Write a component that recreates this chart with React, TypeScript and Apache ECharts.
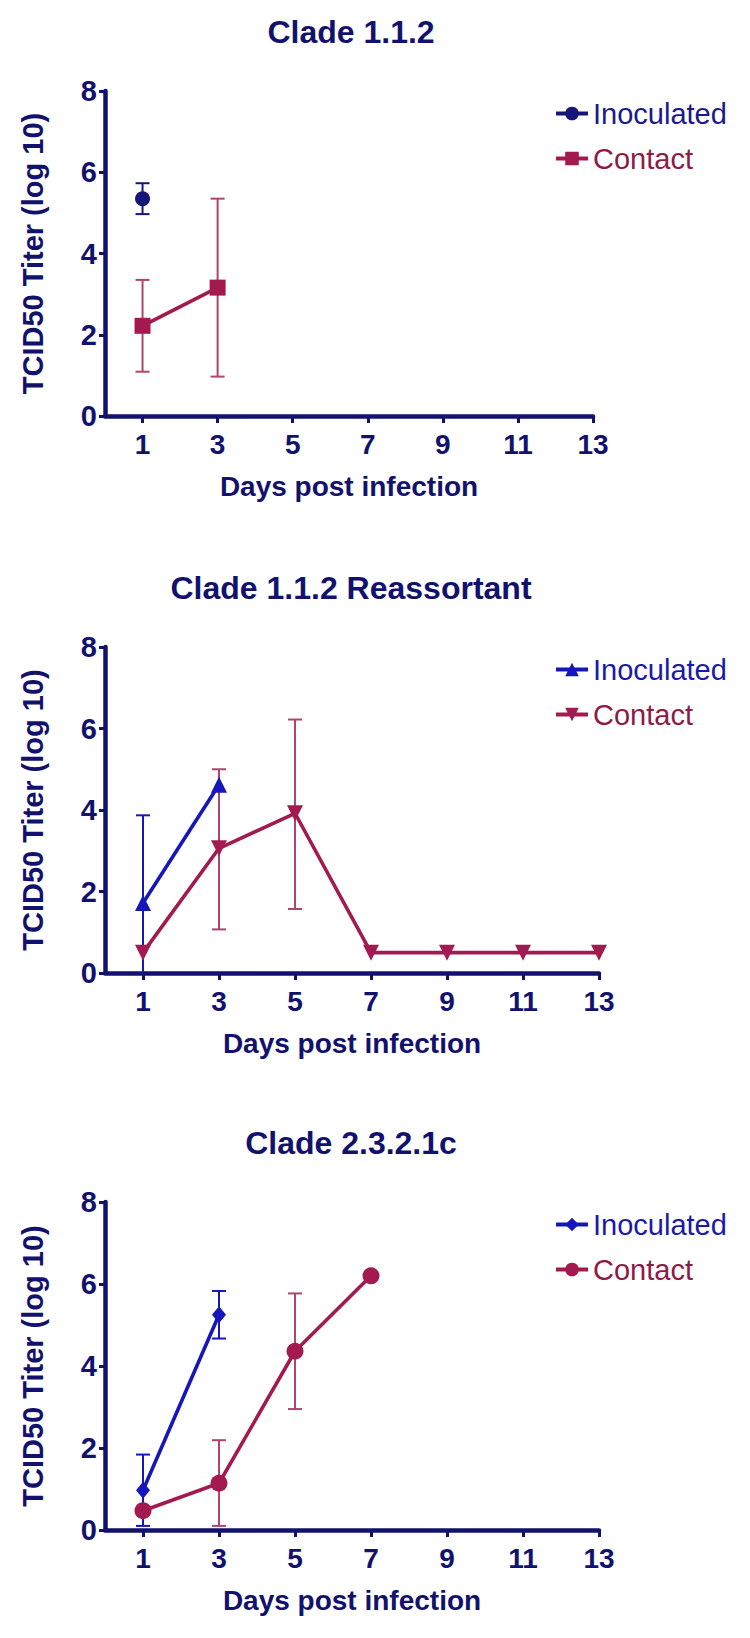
import React, { useEffect, useRef } from "react";
import * as echarts from "echarts";

// ---------- data ----------
const xTicks = [1, 3, 5, 7, 9, 11, 13];
const titles = ["Clade 1.1.2", "Clade 1.1.2 Reassortant", "Clade 2.3.2.1c"];
const legendNames = ["Inoculated", "Contact"];
const yAxisTitle = "TCID50 Titer (log 10)";
const xAxisTitle = "Days post infection";

// Clade 1.1.2
const c1InocDays = [1];
const c1InocMean = [5.35];
const c1InocLow = [4.97];
const c1InocHigh = [5.73];
const c1ContDays = [1, 3];
const c1ContMean = [2.22, 3.16];
const c1ContLow = [1.09, 0.97];
const c1ContHigh = [3.35, 5.35];

// Clade 1.1.2 Reassortant
const c2InocDays = [1, 3];
const c2InocMean = [1.72, 4.62];
const c2InocLow = [0, null];
const c2InocHigh = [3.87, null];
const c2ContDays = [1, 3, 5, 7, 9, 11, 13];
const c2ContMean = [0.5, 3.06, 3.92, 0.5, 0.5, 0.5, 0.5];
const c2ContLow = [null, 1.07, 1.57, null, null, null, null];
const c2ContHigh = [null, 5.0, 6.22, null, null, null, null];

// Clade 2.3.2.1c
const c3InocDays = [1, 3];
const c3InocMean = [0.97, 5.25];
const c3InocLow = [0.1, 4.67];
const c3InocHigh = [1.84, 5.83];
const c3ContDays = [1, 3, 5, 7];
const c3ContMean = [0.47, 1.14, 4.36, 6.2];
const c3ContLow = [null, 0.1, 2.95, null];
const c3ContHigh = [null, 2.19, 5.77, null];

// ---------- styles ----------
const NAVY = "#12126e";
const INOC1 = "#15157a";
const INOC = "#1616bc";
const CONT = "#a31a50";
const CONT_ERR = "#b04470";
const FONT = "'Liberation Sans', Arial, sans-serif";

const grids = [
  { left: 105, top: 91, width: 488, height: 325 },
  { left: 105, top: 647, width: 494, height: 326 },
  { left: 105, top: 1202, width: 494, height: 328 },
];

function pts(days: number[], vals: number[]) {
  return days.map((d, i) => [d, vals[i]]);
}
function errs(days: number[], lo: (number | null)[], hi: (number | null)[]) {
  const out: number[][] = [];
  days.forEach((d, i) => {
    if (lo[i] !== null && hi[i] !== null) out.push([d, lo[i] as number, hi[i] as number]);
  });
  return out;
}

function errorSeries(idx: number, data: number[][], color: string) {
  return {
    type: "custom",
    xAxisIndex: idx,
    yAxisIndex: idx,
    z: 1,
    silent: true,
    data,
    renderItem: (params: any, api: any) => {
      const x = api.value(0);
      const lo = api.value(1);
      const hi = api.value(2);
      const p1 = api.coord([x, hi]);
      const p2 = api.coord([x, lo]);
      const hw = 7;
      const style = { stroke: color, lineWidth: 2, fill: "none" };
      const children: any[] = [
        { type: "line", shape: { x1: p1[0], y1: p1[1], x2: p2[0], y2: p2[1] }, style },
        { type: "line", shape: { x1: p1[0] - hw, y1: p1[1], x2: p1[0] + hw, y2: p1[1] }, style },
      ];
      if (lo > 0) {
        children.push({ type: "line", shape: { x1: p2[0] - hw, y1: p2[1], x2: p2[0] + hw, y2: p2[1] }, style });
      }
      return { type: "group", children };
    },
  };
}

function lineSeries(idx: number, name: string, data: number[][], color: string, symbol: string, size: any, rotate = 0) {
  return {
    type: "line",
    name,
    xAxisIndex: idx,
    yAxisIndex: idx,
    z: 3,
    data,
    symbol,
    symbolSize: size,
    symbolRotate: rotate,
    showAllSymbol: true,
    itemStyle: { color, opacity: 1 },
    lineStyle: { color, width: 3.6 },
  };
}

export default function App() {
  const ref = useRef<HTMLDivElement>(null);
  useEffect(() => {
    document.body.style.margin = "0";
    if (!ref.current) return;
    const chart = echarts.init(ref.current, undefined, { renderer: "svg" });

    const tag = (i: number, n: string) => `${n} (${i + 1})`;

    const option: any = {
      animation: false,
      backgroundColor: "#ffffff",
      textStyle: { fontFamily: FONT },
      title: grids.map((g, i) => ({
        text: titles[i],
        left: 351,
        top: g.top - 75,
        padding: 0,
        textAlign: "center",
        textStyle: { fontSize: 32, fontWeight: "bold", color: NAVY, fontFamily: FONT },
      })),
      legend: grids.map((g, i) => ({
        orient: "vertical",
        left: 554,
        top: g.top + 8,
        padding: 0,
        itemGap: 16,
        itemWidth: 32,
        itemHeight: 17,
        selectedMode: false,
        lineStyle: { width: 4 },
        formatter: (name: string) => name.replace(/ \(\d\)$/, ""),
        textStyle: { fontSize: 29, fontFamily: FONT },
        data: [
          { name: tag(i, legendNames[0]), textStyle: { color: i === 0 ? "#1a1a8a" : "#1a1aa8" } },
          { name: tag(i, legendNames[1]), textStyle: { color: "#8e1a46" } },
        ],
      })),
      grid: grids.map((g) => ({ ...g, containLabel: false })),
      xAxis: grids.map((g, i) => ({
        type: "value",
        gridIndex: i,
        min: 0,
        max: 13,
        name: xAxisTitle,
        nameLocation: "middle",
        nameGap: 56,
        nameTextStyle: { fontSize: 28, fontWeight: "bold", color: NAVY, fontFamily: FONT },
        axisLine: { show: true, onZero: false, lineStyle: { color: NAVY, width: 4.5 } },
        axisTick: { show: true, inside: false, length: 7, lineStyle: { color: NAVY, width: 3 }, customValues: xTicks },
        axisLabel: { show: true, margin: 14, fontSize: 28, fontWeight: "bold", color: NAVY, fontFamily: FONT, customValues: xTicks },
        splitLine: { show: false },
      })),
      yAxis: grids.map((g, i) => ({
        type: "value",
        gridIndex: i,
        min: 0,
        max: 8,
        interval: 2,
        name: yAxisTitle,
        nameLocation: "middle",
        nameGap: 58,
        nameTextStyle: { fontSize: 29, fontWeight: "bold", color: NAVY, fontFamily: FONT },
        axisLine: { show: true, lineStyle: { color: NAVY, width: 4.5 } },
        axisTick: { show: true, inside: false, length: 6, lineStyle: { color: NAVY, width: 3 } },
        axisLabel: { show: true, margin: 8, fontSize: 29, fontWeight: "bold", color: NAVY, fontFamily: FONT },
        splitLine: { show: false },
      })),
      series: [
        // chart 1
        errorSeries(0, errs(c1InocDays, c1InocLow, c1InocHigh), INOC1),
        errorSeries(0, errs(c1ContDays, c1ContLow, c1ContHigh), CONT_ERR),
        lineSeries(0, tag(0, legendNames[0]), pts(c1InocDays, c1InocMean), INOC1, "circle", 15),
        lineSeries(0, tag(0, legendNames[1]), pts(c1ContDays, c1ContMean), CONT, "rect", 16),
        // chart 2
        errorSeries(1, errs(c2InocDays, c2InocLow, c2InocHigh), INOC),
        errorSeries(1, errs(c2ContDays, c2ContLow, c2ContHigh), CONT_ERR),
        lineSeries(1, tag(1, legendNames[0]), pts(c2InocDays, c2InocMean), INOC, "triangle", 16),
        lineSeries(1, tag(1, legendNames[1]), pts(c2ContDays, c2ContMean), CONT, "triangle", 16, 180),
        // chart 3
        errorSeries(2, errs(c3InocDays, c3InocLow, c3InocHigh), INOC),
        errorSeries(2, errs(c3ContDays, c3ContLow, c3ContHigh), CONT_ERR),
        lineSeries(2, tag(2, legendNames[0]), pts(c3InocDays, c3InocMean), INOC, "diamond", [14, 17]),
        lineSeries(2, tag(2, legendNames[1]), pts(c3ContDays, c3ContMean), CONT, "circle", 17),
      ],
    };
    chart.setOption(option);
    return () => chart.dispose();
  }, []);
  return <div ref={ref} style={{ width: 750, height: 1638 }} />;
}
